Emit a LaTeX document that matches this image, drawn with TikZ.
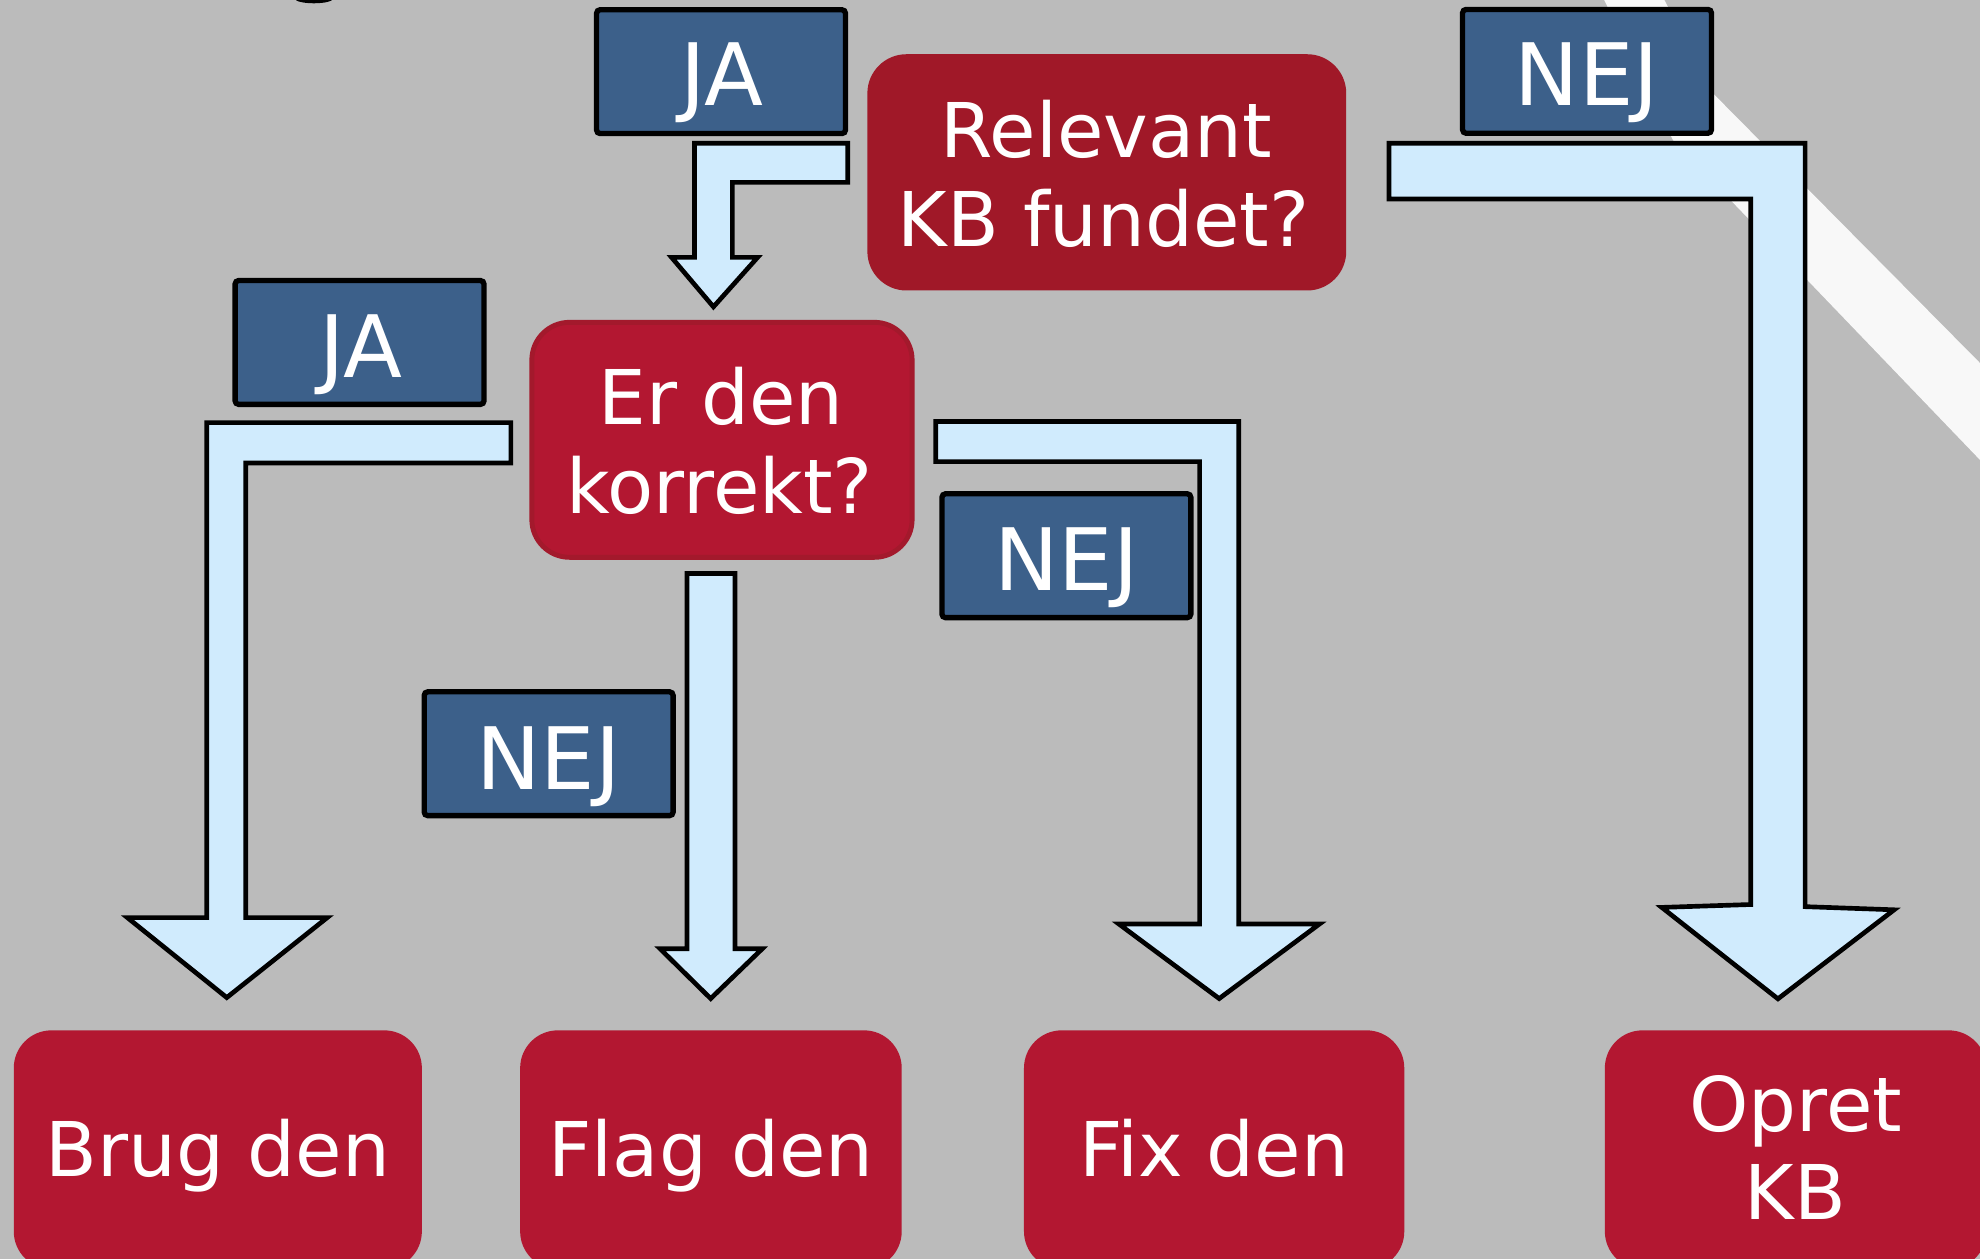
\documentclass[tikz,border=0pt]{standalone}
\usepackage{fontspec}
\setmainfont{DejaVu Sans}
\definecolor{bggray}{HTML}{BBBBBB}
\definecolor{bandwhite}{HTML}{F8F8F8}
\definecolor{boxblue}{HTML}{3C608A}
\definecolor{boxred}{HTML}{B31731}
\definecolor{darkred}{HTML}{A01828}
\definecolor{edgered}{HTML}{A3192C}
\definecolor{arrowblue}{HTML}{D0EBFD}
\tikzset{
  bluebox/.style={draw=black, line width=1.2pt, fill=boxblue, rounded corners=0.8pt,
    minimum width=1.97cm, minimum height=0.98cm, inner sep=0pt},
  redbox/.style={fill=boxred, rounded corners=8.5pt, inner sep=0pt},
  lbl/.style={text=white, font=\fontsize{19.4}{23}\selectfont, anchor=base, inner sep=0pt},
  rtxt/.style={text=white, font=\fontsize{17}{20}\selectfont, anchor=base, inner sep=0pt},
  blockarrow/.style={draw=black, line width=1.05pt, fill=arrowblue, line join=miter},
}
\begin{document}
\begin{tikzpicture}[x=0.01cm, y=-0.01cm]
\useasboundingbox (0,0) rectangle (1568,997);
\clip (0,0) rectangle (1568,997);
\fill[bggray] (0,0) rectangle (1568,997);
% white diagonal band
\fill[bandwhite] (1269.4,-2) -- (1317,-2) -- (1356.5,73.9) -- (1570,289.5) -- (1570,366.3) -- (1324.8,110.9) -- cycle;
% small black mark at top edge
\fill[black] (248.6,-1) ellipse [x radius=15, y radius=3.6];

% red decision / result boxes
\node[redbox, fill=darkred, rounded corners=8.8pt, minimum width=3.79cm, minimum height=1.87cm] (rel) at (876.5,136.5) {};
\node[redbox, draw=edgered, line width=1.1pt, minimum width=3.01cm, minimum height=1.86cm] (erden) at (571.75,348.3) {};
\node[redbox, minimum width=3.23cm, minimum height=1.89cm] (brug) at (172.5,910.5) {};
\node[redbox, minimum width=3.02cm, minimum height=1.89cm] (flag) at (563,910.5) {};
\node[redbox, minimum width=3.01cm, minimum height=1.89cm] (fix) at (961.5,910.5) {};
\node[redbox, minimum width=3.02cm, minimum height=1.89cm] (opret) at (1422,910.5) {};

\node[rtxt] (rel1) at (876,124.6) {Relevant};
\node[rtxt] (rel2) at (874,195.4) {KB fundet?};
\node[rtxt] (erden1) at (571,335.8) {Er den};
\node[rtxt] (erden2) at (570,406.5) {korrekt?};
\node[rtxt] (brugt) at (172.5,931.8) {Brug den};
\node[rtxt] (flagt) at (563,931.8) {Flag den};
\node[rtxt] (fixt) at (961.5,931.8) {Fix den};
\node[rtxt] (opret1) at (1422,896.2) {Opret};
\node[rtxt] (opret2) at (1422,966.1) {KB};

% blue answer labels
\node[bluebox] (ja1) at (571,56.75) {};
\node[bluebox] (nej1) at (1256.8,56.5) {};
\node[bluebox] (ja2) at (284.75,271.2) {};
\node[bluebox] (nej2) at (434.5,596.9) {};
\node[bluebox] (nej3) at (844.5,440.1) {};
\node[lbl] (ja1t) at (572,83.9) {JA};
\node[lbl] (nej1t) at (1256.8,83.9) {NEJ};
\node[lbl] (ja2t) at (285.75,299) {JA};
\node[lbl] (nej2t) at (434.5,625) {NEJ};
\node[lbl] (nej3t) at (844.5,468) {NEJ};

% block arrows
\draw[blockarrow] (671.4,113.5) -- (550,113.5) -- (550,203.8) -- (531.8,203.8) -- (565,243) -- (600,203.8) -- (580,203.8) -- (580,144.4) -- (671.4,144.4) -- cycle;
\draw[blockarrow] (404.6,334.7) -- (163.7,334.7) -- (163.7,726.7) -- (100.9,726.7) -- (179.6,790) -- (259.1,726.7) -- (194.6,726.7) -- (194.6,366.6) -- (404.6,366.6) -- cycle;
\draw[blockarrow] (544,454.2) -- (544,751.4) -- (522.8,751.4) -- (562.8,790.8) -- (603.6,751.4) -- (582,751.4) -- (582,454.2) -- cycle;
\draw[blockarrow] (741,333.8) -- (981,333.8) -- (981,731.7) -- (1045,731.7) -- (965.5,790.8) -- (886,731.7) -- (950,731.7) -- (950,365.6) -- (741,365.6) -- cycle;
\draw[blockarrow] (1100,113.5) -- (1429.5,113.5) -- (1429.5,718) -- (1500,720.5) -- (1408,791) -- (1316,718.6) -- (1386.5,716.3) -- (1386.5,157.6) -- (1100,157.6) -- cycle;
\end{tikzpicture}
\end{document}
